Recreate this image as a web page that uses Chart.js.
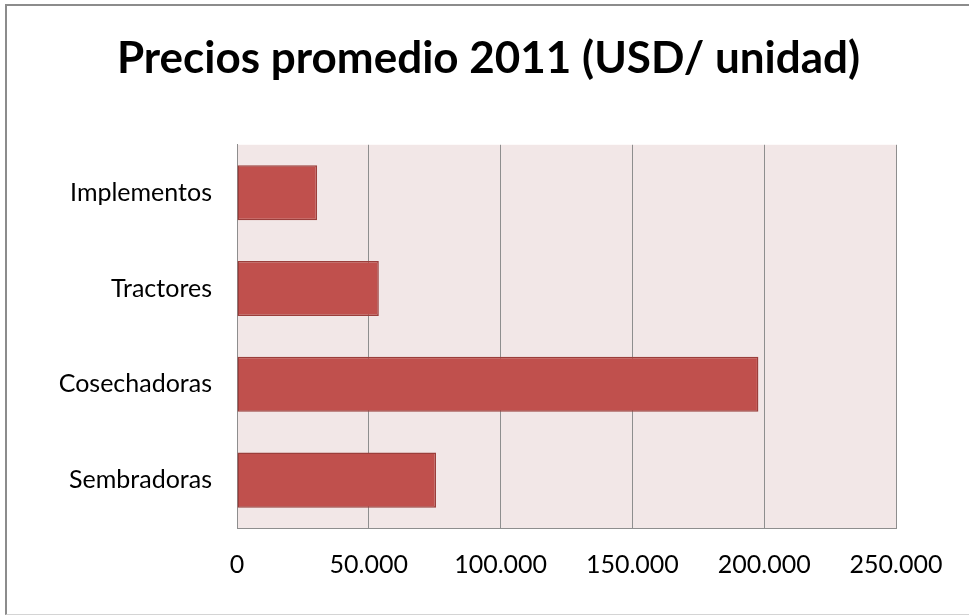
<!DOCTYPE html>
<html>
<head>
<meta charset="utf-8">
<title>Precios promedio 2011</title>
<script src="https://cdn.jsdelivr.net/npm/chart.js@4"></script>
<style>
    html, body { margin: 0; padding: 0; background: #ffffff; }
    #wrap { position: relative; width: 969px; height: 615px; overflow: hidden; }
    #frame {
        position: absolute; left: 5px; top: 4px; width: 1000px; height: 608px;
        border-left: 2px solid #8c8c8c; border-top: 2px solid #8c8c8c;
        border-bottom: 1px solid #d4d4d4; pointer-events: none;
    }
    #chart { position: absolute; left: 0; top: 0; }
</style>
</head>
<body>
<div id="wrap">
    <canvas id="chart" width="969" height="615"></canvas>
    <div id="frame"></div>
</div>
<script>
// Categories, top to bottom
const categories = ['Implementos', 'Tractores', 'Cosechadoras', 'Sembradoras'];
// Average price per unit, USD
const prices = [30400, 53800, 197800, 75500];
// Axis range
const axisMax = 250000;
const axisStep = 50000;

const FONT = "Lato, 'Open Sans', sans-serif";

// Thousands separated with a dot: 50000 -> 50.000
function formatThousands(v) {
    return String(v).replace(/\B(?=(\d{3})+(?!\d))/g, '.');
}

// Pink plot background behind the bars
const plotBackground = {
    id: 'plotBackground',
    beforeDraw(chart) {
        const { ctx, chartArea: a } = chart;
        ctx.save();
        ctx.fillStyle = '#f2e7e7';
        ctx.fillRect(a.left, a.top, a.right - a.left, a.bottom - a.top);
        ctx.restore();
    }
};

new Chart(document.getElementById('chart').getContext('2d'), {
    type: 'bar',
    data: {
        labels: categories,
        datasets: [{
            label: 'Precio promedio',
            data: prices,
            backgroundColor: '#c0504d',
            borderColor: '#9b3e3b',
            borderWidth: 1.5,
            borderSkipped: false,
            categoryPercentage: 1,
            barPercentage: 0.575
        }]
    },
    options: {
        responsive: false,
        animation: false,
        indexAxis: 'y',
        layout: { padding: { left: 8, right: 0, top: 0, bottom: 0 } },
        scales: {
            x: {
                min: 0,
                max: axisMax,
                afterFit(scale) { scale.height = 87; },
                grid: { color: '#8e8e8e', lineWidth: 1, drawTicks: false },
                border: { display: true, color: '#8e8e8e' },
                ticks: {
                    stepSize: axisStep,
                    padding: 22,
                    color: '#000000',
                    font: { family: FONT, size: 25 },
                    callback: v => formatThousands(v)
                }
            },
            y: {
                afterFit(scale) { scale.width = 229; },
                grid: { display: false, drawTicks: false },
                border: { display: true, color: '#8e8e8e' },
                ticks: {
                    padding: 25,
                    color: '#000000',
                    font: { family: FONT, size: 25 }
                }
            },
            // empty right-hand gutter so the plot stops short of the edge
            gutter: {
                axis: 'y',
                position: 'right',
                afterFit(scale) { scale.width = 73; },
                grid: { display: false, drawTicks: false },
                border: { display: false },
                ticks: { display: false }
            }
        },
        plugins: {
            legend: { display: false },
            tooltip: { enabled: false },
            title: {
                display: true,
                text: 'Precios promedio 2011 (USD/ unidad)',
                color: '#000000',
                font: { family: FONT, size: 44, weight: 'bold', lineHeight: 1.2 },
                padding: { top: 32, bottom: 60 }
            }
        }
    },
    plugins: [plotBackground]
});
</script>
</body>
</html>
